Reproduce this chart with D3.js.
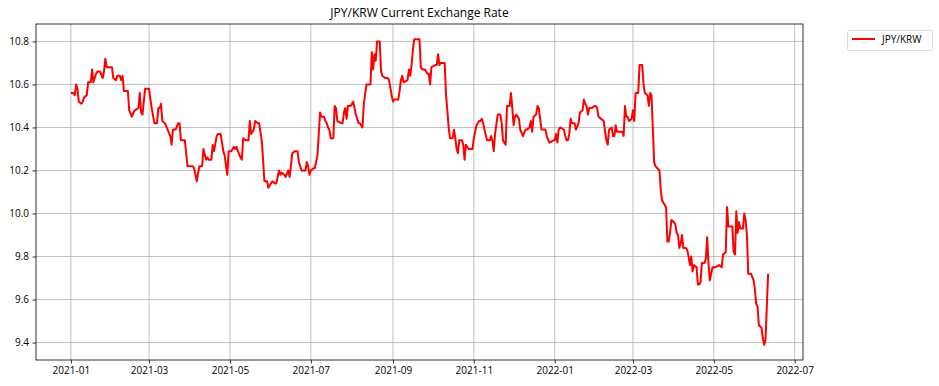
<!DOCTYPE html>
<html>
<head>
<meta charset="utf-8">
<script src="https://cdn.jsdelivr.net/npm/d3@7"></script>
<style>
  body { margin: 0; background: #fff; }
  text { font-family: "Open Sans", "Noto Sans", sans-serif; }
</style>
</head>
<body>
<script>
var canvasWidth = 939;
var canvasHeight = 386;
var margin = { top: 24, right: 136, bottom: 26, left: 36 };

var seriesName = "JPY/KRW";
var chartTitle = "JPY/KRW Current Exchange Rate";

// readings
var dates = [
  "2021-01-01","2021-01-03","2021-01-04","2021-01-05","2021-01-06","2021-01-07","2021-01-09","2021-01-10","2021-01-11","2021-01-13",
  "2021-01-14","2021-01-16","2021-01-17","2021-01-18","2021-01-20","2021-01-21","2021-01-23","2021-01-25","2021-01-26","2021-01-27",
  "2021-01-28","2021-02-01","2021-02-02","2021-02-04","2021-02-05","2021-02-07","2021-02-08","2021-02-09","2021-02-10","2021-02-13",
  "2021-02-14","2021-02-16","2021-02-18","2021-02-21","2021-02-22","2021-02-23","2021-02-24","2021-02-26","2021-03-01","2021-03-02",
  "2021-03-03","2021-03-05","2021-03-07","2021-03-08","2021-03-09","2021-03-10","2021-03-11","2021-03-13","2021-03-15","2021-03-17",
  "2021-03-18","2021-03-19","2021-03-21","2021-03-23","2021-03-24","2021-03-25","2021-03-28","2021-03-29","2021-03-30","2021-04-02",
  "2021-04-03","2021-04-04","2021-04-06","2021-04-07","2021-04-08","2021-04-10","2021-04-11","2021-04-13","2021-04-14","2021-04-15",
  "2021-04-17","2021-04-18","2021-04-19","2021-04-21","2021-04-22","2021-04-24","2021-04-26","2021-04-27","2021-04-29","2021-04-30",
  "2021-05-02","2021-05-04","2021-05-05","2021-05-06","2021-05-07","2021-05-09","2021-05-10","2021-05-11","2021-05-13","2021-05-15",
  "2021-05-16","2021-05-17","2021-05-19","2021-05-20","2021-05-22","2021-05-23","2021-05-25","2021-05-26","2021-05-27","2021-05-29",
  "2021-05-30","2021-06-01","2021-06-02","2021-06-04","2021-06-05","2021-06-07","2021-06-08","2021-06-09","2021-06-11","2021-06-12",
  "2021-06-14","2021-06-15","2021-06-16","2021-06-17","2021-06-19","2021-06-20","2021-06-21","2021-06-22","2021-06-24","2021-06-25",
  "2021-06-27","2021-06-28","2021-06-29","2021-06-30","2021-07-01","2021-07-03","2021-07-04","2021-07-06","2021-07-07","2021-07-08",
  "2021-07-09","2021-07-11","2021-07-12","2021-07-13","2021-07-14","2021-07-15","2021-07-16","2021-07-18","2021-07-19","2021-07-20",
  "2021-07-21","2021-07-24","2021-07-25","2021-07-26","2021-07-27","2021-07-28","2021-07-29","2021-07-31","2021-08-02","2021-08-03",
  "2021-08-04","2021-08-06","2021-08-07","2021-08-09","2021-08-10","2021-08-12","2021-08-14","2021-08-15","2021-08-16","2021-08-17",
  "2021-08-18","2021-08-19","2021-08-20","2021-08-22","2021-08-23","2021-08-24","2021-08-26","2021-08-28","2021-08-29","2021-08-31",
  "2021-09-01","2021-09-02","2021-09-05","2021-09-06","2021-09-07","2021-09-08","2021-09-09","2021-09-12","2021-09-13","2021-09-14",
  "2021-09-15","2021-09-16","2021-09-17","2021-09-21","2021-09-22","2021-09-23","2021-09-25","2021-09-27","2021-09-28","2021-09-29",
  "2021-09-30","2021-10-03","2021-10-04","2021-10-05","2021-10-06","2021-10-07","2021-10-10","2021-10-11","2021-10-12","2021-10-13",
  "2021-10-14","2021-10-16","2021-10-17","2021-10-18","2021-10-19","2021-10-20","2021-10-21","2021-10-23","2021-10-24","2021-10-25",
  "2021-10-26","2021-10-28","2021-10-31","2021-11-01","2021-11-02","2021-11-03","2021-11-05","2021-11-06","2021-11-07","2021-11-08",
  "2021-11-09","2021-11-11","2021-11-13","2021-11-14","2021-11-15","2021-11-16","2021-11-17","2021-11-19","2021-11-21","2021-11-22",
  "2021-11-23","2021-11-25","2021-11-26","2021-11-28","2021-11-29","2021-11-30","2021-12-01","2021-12-02","2021-12-03","2021-12-05",
  "2021-12-06","2021-12-08","2021-12-10","2021-12-11","2021-12-13","2021-12-14","2021-12-15","2021-12-16","2021-12-18","2021-12-19",
  "2021-12-20","2021-12-21","2021-12-22","2021-12-25","2021-12-26","2021-12-28","2021-12-31","2022-01-01","2022-01-02","2022-01-03",
  "2022-01-04","2022-01-05","2022-01-08","2022-01-09","2022-01-10","2022-01-11","2022-01-12","2022-01-13","2022-01-14","2022-01-16",
  "2022-01-17","2022-01-19","2022-01-20","2022-01-22","2022-01-23","2022-01-24","2022-01-25","2022-01-26","2022-01-27","2022-01-29",
  "2022-01-31","2022-02-01","2022-02-02","2022-02-03","2022-02-05","2022-02-07","2022-02-08","2022-02-09","2022-02-10","2022-02-11",
  "2022-02-13","2022-02-14","2022-02-15","2022-02-16","2022-02-17","2022-02-21","2022-02-22","2022-02-23","2022-02-24","2022-02-25",
  "2022-02-26","2022-02-28","2022-03-01","2022-03-02","2022-03-03","2022-03-05","2022-03-06","2022-03-08","2022-03-09","2022-03-10",
  "2022-03-12","2022-03-13","2022-03-14","2022-03-15","2022-03-16","2022-03-17","2022-03-18","2022-03-21","2022-03-22","2022-03-23",
  "2022-03-25","2022-03-26","2022-03-27","2022-03-28","2022-03-29","2022-03-30","2022-04-01","2022-04-02","2022-04-03","2022-04-04",
  "2022-04-05","2022-04-06","2022-04-07","2022-04-08","2022-04-10","2022-04-11","2022-04-12","2022-04-13","2022-04-14","2022-04-15",
  "2022-04-16","2022-04-18","2022-04-19","2022-04-20","2022-04-21","2022-04-22","2022-04-24","2022-04-25","2022-04-26","2022-04-27",
  "2022-04-28","2022-04-30","2022-05-02","2022-05-05","2022-05-07","2022-05-08","2022-05-10","2022-05-11","2022-05-12","2022-05-15",
  "2022-05-16","2022-05-17","2022-05-18","2022-05-19","2022-05-20","2022-05-21","2022-05-23","2022-05-24","2022-05-25","2022-05-26",
  "2022-05-27","2022-05-29","2022-05-31","2022-06-01","2022-06-02","2022-06-03","2022-06-04","2022-06-06","2022-06-07","2022-06-08",
  "2022-06-09","2022-06-10","2022-06-11"
];

var rates = [
  10.56,10.56,10.55,10.60,10.58,10.52,10.51,10.52,10.54,10.55,
  10.61,10.61,10.67,10.61,10.65,10.66,10.66,10.63,10.66,10.72,
  10.68,10.68,10.63,10.62,10.64,10.64,10.62,10.64,10.57,10.57,
  10.48,10.45,10.48,10.49,10.56,10.47,10.46,10.58,10.58,10.53,
  10.49,10.42,10.42,10.49,10.49,10.51,10.43,10.42,10.39,10.36,
  10.32,10.39,10.39,10.42,10.42,10.34,10.34,10.28,10.22,10.22,
  10.22,10.21,10.15,10.19,10.22,10.22,10.30,10.25,10.26,10.25,
  10.25,10.32,10.29,10.36,10.37,10.37,10.29,10.27,10.18,10.29,
  10.29,10.31,10.30,10.31,10.29,10.26,10.25,10.35,10.34,10.34,
  10.43,10.37,10.39,10.43,10.42,10.42,10.34,10.25,10.15,10.15,
  10.12,10.14,10.15,10.14,10.14,10.20,10.18,10.19,10.18,10.17,
  10.20,10.17,10.22,10.28,10.29,10.29,10.29,10.24,10.20,10.20,
  10.20,10.24,10.22,10.18,10.20,10.21,10.21,10.27,10.37,10.47,
  10.45,10.45,10.43,10.42,10.40,10.39,10.35,10.35,10.50,10.49,
  10.43,10.42,10.42,10.47,10.49,10.44,10.50,10.50,10.52,10.49,
  10.46,10.42,10.42,10.40,10.51,10.60,10.60,10.60,10.75,10.67,
  10.74,10.71,10.80,10.80,10.66,10.64,10.63,10.63,10.62,10.55,
  10.52,10.53,10.53,10.57,10.62,10.64,10.61,10.62,10.67,10.64,
  10.69,10.76,10.81,10.81,10.68,10.67,10.67,10.65,10.65,10.60,
  10.68,10.69,10.69,10.74,10.69,10.70,10.70,10.55,10.48,10.40,
  10.35,10.35,10.39,10.35,10.30,10.28,10.34,10.34,10.32,10.25,
  10.32,10.30,10.30,10.35,10.38,10.41,10.43,10.43,10.44,10.42,
  10.39,10.34,10.34,10.36,10.34,10.29,10.37,10.46,10.46,10.42,
  10.34,10.32,10.50,10.50,10.56,10.49,10.41,10.45,10.46,10.44,
  10.39,10.36,10.39,10.39,10.40,10.43,10.38,10.45,10.46,10.50,
  10.49,10.44,10.39,10.39,10.36,10.33,10.34,10.34,10.37,10.33,
  10.39,10.40,10.39,10.36,10.34,10.34,10.37,10.44,10.42,10.42,
  10.39,10.42,10.47,10.48,10.53,10.51,10.50,10.46,10.49,10.49,
  10.50,10.50,10.49,10.45,10.44,10.43,10.38,10.34,10.32,10.39,
  10.40,10.36,10.36,10.41,10.38,10.38,10.36,10.50,10.45,10.45,
  10.43,10.44,10.48,10.43,10.56,10.56,10.69,10.69,10.60,10.56,
  10.55,10.50,10.56,10.55,10.40,10.24,10.22,10.20,10.11,10.06,
  10.04,10.03,9.87,9.87,9.91,9.97,9.96,9.95,9.91,9.90,
  9.84,9.86,9.90,9.84,9.84,9.83,9.80,9.76,9.80,9.73,
  9.76,9.75,9.67,9.67,9.68,9.77,9.77,9.79,9.89,9.77,
  9.69,9.75,9.75,9.76,9.75,9.81,9.82,10.03,9.94,9.94,
  9.82,9.81,10.01,9.91,9.96,9.93,9.93,10.00,9.97,9.90,
  9.72,9.72,9.69,9.65,9.58,9.57,9.48,9.47,9.42,9.39,
  9.41,9.57,9.72
];

var yTicks = [9.4, 9.6, 9.8, 10.0, 10.2, 10.4, 10.6, 10.8];

var parseDate = d3.utcParse("%Y-%m-%d");
var data = dates.map(function(d, i) { return { date: parseDate(d), rate: rates[i] }; });

var width = canvasWidth - margin.left - margin.right;
var height = canvasHeight - margin.top - margin.bottom;

var svg = d3.select("body").append("svg")
    .attr("width", canvasWidth)
    .attr("height", canvasHeight);

// matplotlib style 5% padding on both axes
var xExt = d3.extent(data, d => d.date);
var xPad = (xExt[1] - xExt[0]) * 0.05;
var xScale = d3.scaleUtc()
    .domain([new Date(+xExt[0] - xPad), new Date(+xExt[1] + xPad)])
    .range([0, width]);

var yExt = d3.extent(data, d => d.rate);
var yPad = (yExt[1] - yExt[0]) * 0.05;
var yScale = d3.scaleLinear()
    .domain([yExt[0] - yPad, yExt[1] + yPad])
    .range([height, 0]);

var g = svg.append("g")
    .attr("transform", "translate(" + margin.left + "," + margin.top + ")");

var xTicks = xScale.ticks(d3.utcMonth.every(2));

// grid
g.append("g").selectAll("line")
    .data(xTicks)
    .enter().append("line")
    .attr("x1", d => xScale(d)).attr("x2", d => xScale(d))
    .attr("y1", 0).attr("y2", height)
    .attr("stroke", "#b0b0b0")
    .attr("stroke-width", 0.8);

g.append("g").selectAll("line")
    .data(yTicks)
    .enter().append("line")
    .attr("x1", 0).attr("x2", width)
    .attr("y1", d => yScale(d)).attr("y2", d => yScale(d))
    .attr("stroke", "#b0b0b0")
    .attr("stroke-width", 0.8);

// axes
var xAxis = g.append("g")
    .attr("transform", "translate(0," + height + ")")
    .call(d3.axisBottom(xScale).tickValues(xTicks).tickFormat(d3.utcFormat("%Y-%m")).tickSize(3.5).tickPadding(3.5));

var yAxis = g.append("g")
    .call(d3.axisLeft(yScale).tickValues(yTicks).tickFormat(d3.format(".1f")).tickSize(3.5).tickPadding(3.5));

[xAxis, yAxis].forEach(function(a) {
    a.select(".domain").remove();
    a.selectAll(".tick line").attr("stroke", "#000").attr("stroke-width", 0.8);
    a.selectAll(".tick text")
        .attr("fill", "#000")
        .attr("font-size", "10px")
        .attr("font-family", "Open Sans, sans-serif");
});

// the line
var line = d3.line()
    .x(d => xScale(d.date))
    .y(d => yScale(d.rate));

g.append("path")
    .datum(data)
    .attr("d", line)
    .attr("fill", "none")
    .attr("stroke", "#ff0000")
    .attr("stroke-width", 2)
    .attr("stroke-linejoin", "round");

// frame
g.append("rect")
    .attr("width", width)
    .attr("height", height)
    .attr("fill", "none")
    .attr("stroke", "#000")
    .attr("stroke-width", 0.8);

// title
svg.append("text")
    .attr("x", margin.left + width / 2)
    .attr("y", margin.top - 7)
    .attr("text-anchor", "middle")
    .attr("font-size", "12px")
    .attr("fill", "#000")
    .text(chartTitle);

// legend
var legend = svg.append("g")
    .attr("transform", "translate(" + (margin.left + width + 44) + "," + (margin.top + 6) + ")");

legend.append("rect")
    .attr("x", 0.5).attr("y", 0.5)
    .attr("width", 85).attr("height", 20)
    .attr("rx", 2)
    .attr("fill", "#fff")
    .attr("stroke", "#d0d0d0")
    .attr("stroke-width", 0.8);

legend.append("line")
    .attr("x1", 5).attr("x2", 28)
    .attr("y1", 9).attr("y2", 9)
    .attr("stroke", "#ff0000")
    .attr("stroke-width", 2);

legend.append("text")
    .attr("x", 35).attr("y", 13)
    .attr("font-size", "10px")
    .attr("fill", "#000")
    .text(seriesName);
</script>
</body>
</html>
